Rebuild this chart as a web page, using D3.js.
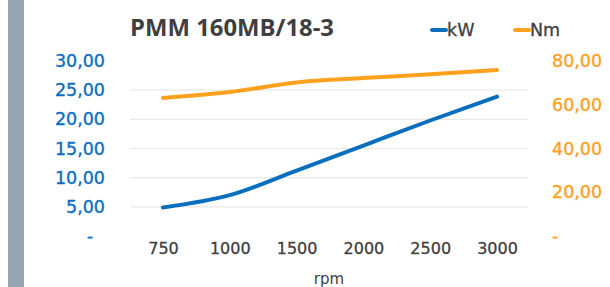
<!DOCTYPE html>
<html>
<head>
<meta charset="utf-8">
<script src="https://cdn.jsdelivr.net/npm/d3@7"></script>
<style>
  body { margin: 0; background: #fff; }
  svg { display: block; font-family: "DejaVu Sans", sans-serif; }
</style>
</head>
<body>
<svg width="610" height="287"></svg>
<script>
// Data
const rpm = ["750", "1000", "1500", "2000", "2500", "3000"];
const kW = [4.9, 7.0, 11.2, 15.5, 19.8, 23.9];
const Nm = [63.1, 65.8, 70.2, 72.2, 73.9, 75.9];
const leftTicks = [0, 5, 10, 15, 20, 25, 30];
const rightTicks = [0, 20, 40, 60, 80];

const blue = "#0a6ebf";
const orange = "#ffa01e";
const font = "DejaVu Sans, sans-serif";

const svg = d3.select("svg");

// grey side bar
svg.append("rect").attr("x", 8).attr("y", 0).attr("width", 16).attr("height", 287)
  .attr("fill", "#97a5b0");

const plotLeft = 130, plotRight = 528, yTop = 61, yBottom = 236;

const x = d3.scalePoint().domain(rpm).range([163, 497]);
const yL = d3.scaleLinear().domain([0, 30]).range([yBottom, yTop]);
const yR = d3.scaleLinear().domain([0, 80]).range([yBottom, yTop]);

const fmt = (v) => (v === 0 ? "-" : d3.format(".2f")(v).replace(".", ","));

// gridlines
svg.append("g")
  .selectAll("line")
  .data(leftTicks.filter((d) => d > 0 && d < 30))
  .enter()
  .append("line")
  .attr("x1", plotLeft)
  .attr("x2", plotRight)
  .attr("y1", (d) => yL(d))
  .attr("y2", (d) => yL(d))
  .attr("stroke", "#e8e8e8")
  .attr("stroke-width", 1.2);

// left axis
const leftAxis = svg.append("g")
  .attr("transform", "translate(105,0)")
  .call(d3.axisLeft(yL).tickValues(leftTicks).tickFormat(fmt).tickSize(0).tickPadding(0));
leftAxis.select(".domain").remove();
leftAxis.selectAll("text")
  .attr("fill", blue)
  .attr("stroke", blue)
  .attr("stroke-width", 0.35)
  .attr("font-size", "17.5px")
  .attr("font-family", font)
  .attr("dx", (d) => (d === 0 ? -12 : 0));

// right axis
const rightAxis = svg.append("g")
  .attr("transform", "translate(552,0)")
  .call(d3.axisRight(yR).tickValues(rightTicks).tickFormat(fmt).tickSize(0).tickPadding(0));
rightAxis.select(".domain").remove();
rightAxis.selectAll("text")
  .attr("fill", orange)
  .attr("stroke", orange)
  .attr("stroke-width", 0.35)
  .attr("font-size", "17.5px")
  .attr("font-family", font);

// x axis
const xAxis = svg.append("g")
  .attr("transform", "translate(0,243)")
  .call(d3.axisBottom(x).tickSize(0).tickPadding(0));
xAxis.select(".domain").remove();
xAxis.selectAll("text")
  .attr("fill", "#404040")
  .attr("stroke", "#404040")
  .attr("stroke-width", 0.3)
  .attr("font-size", "16px")
  .attr("font-family", font);

svg.append("text")
  .attr("x", (plotLeft + plotRight) / 2)
  .attr("y", 284)
  .attr("text-anchor", "middle")
  .attr("fill", "#404040")
  .attr("font-size", "15px")
  .text("rpm");

// lines
const lineL = d3.line().x((d, i) => x(rpm[i])).y((d) => yL(d)).curve(d3.curveMonotoneX);
const lineR = d3.line().x((d, i) => x(rpm[i])).y((d) => yR(d)).curve(d3.curveMonotoneX);

svg.append("path").attr("d", lineR(Nm))
  .attr("fill", "none").attr("stroke", orange).attr("stroke-width", 4)
  .attr("stroke-linecap", "round").attr("stroke-linejoin", "round");
svg.append("path").attr("d", lineL(kW))
  .attr("fill", "none").attr("stroke", blue).attr("stroke-width", 4)
  .attr("stroke-linecap", "round").attr("stroke-linejoin", "round");

// title
svg.append("text")
  .attr("x", 130)
  .attr("y", 36)
  .attr("fill", "#3f3f3f")
  .attr("font-family", "Open Sans, sans-serif")
  .attr("font-size", "23px")
  .attr("font-weight", "700")
  .attr("textLength", 204)
  .attr("lengthAdjust", "spacingAndGlyphs")
  .text("PMM 160MB/18-3");

// legend
const legend = [
  { name: "kW", color: blue, x: 432 },
  { name: "Nm", color: orange, x: 515 },
];
const lg = svg.append("g").selectAll("g").data(legend).enter().append("g");
lg.append("line")
  .attr("x1", (d) => d.x)
  .attr("x2", (d) => d.x + 14)
  .attr("y1", 30)
  .attr("y2", 30)
  .attr("stroke", (d) => d.color)
  .attr("stroke-width", 4)
  .attr("stroke-linecap", "round");
lg.append("text")
  .attr("x", (d) => d.x + 15)
  .attr("y", 36)
  .attr("fill", "#404040")
  .attr("stroke", "#404040")
  .attr("stroke-width", 0.3)
  .attr("font-size", "17.5px")
  .text((d) => d.name);
</script>
</body>
</html>
